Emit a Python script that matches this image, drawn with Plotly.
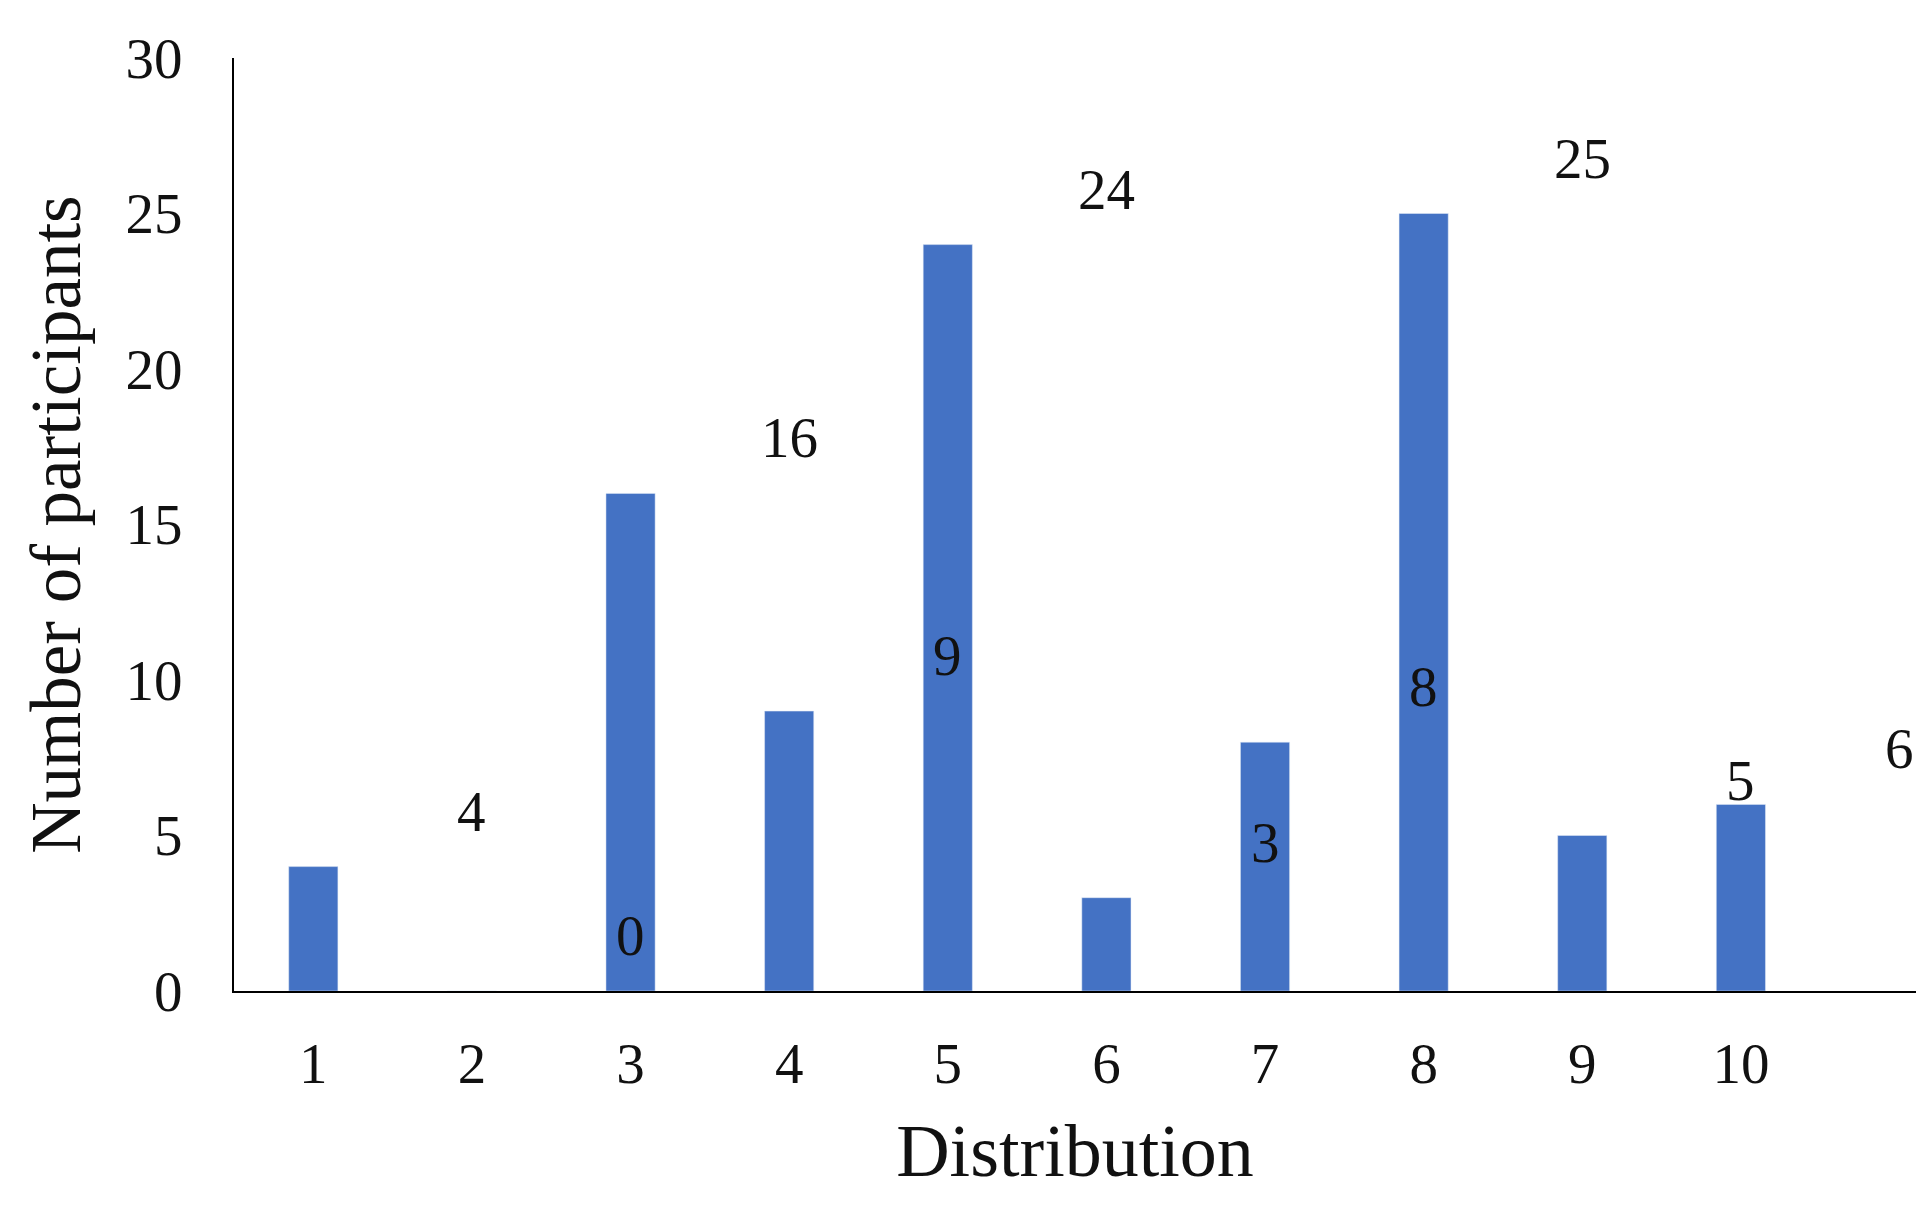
import plotly.graph_objects as go

categories = ["1","2","3","4","5","6","7","8","9","10"]
values = [4,0,16,9,24,3,8,25,5,6]

font = "Liberation Serif"
fig = go.Figure(go.Bar(x=categories, y=values, marker_color="#4472C4", cliponaxis=False))
for c, v in zip(categories, values):
    fig.add_annotation(x=c, y=v, text=str(v), showarrow=False, yanchor="bottom",
                       yshift=22, font=dict(family=font, size=57, color="#111"))
fig.update_layout(
    width=1927, height=1215, plot_bgcolor="white", paper_bgcolor="white",
    margin=dict(l=226, r=19, t=50, b=232), bargap=0.69, showlegend=False,
    font=dict(family=font, color="#111"),
)
fig.update_xaxes(type="category", showline=True, linecolor="black", linewidth=2,
                 ticks="", tickfont=dict(size=57), ticklabelstandoff=22,
                 title=dict(text="Distribution", font=dict(size=74), standoff=30))
fig.update_yaxes(range=[0,30], dtick=5, showgrid=False, zeroline=False, showline=True,
                 linecolor="black", linewidth=2, ticks="", tickfont=dict(size=57),
                 ticklabelstandoff=38,
                 title=dict(text="Number of participants", font=dict(size=71), standoff=22))
fig.write_html("out.html")
